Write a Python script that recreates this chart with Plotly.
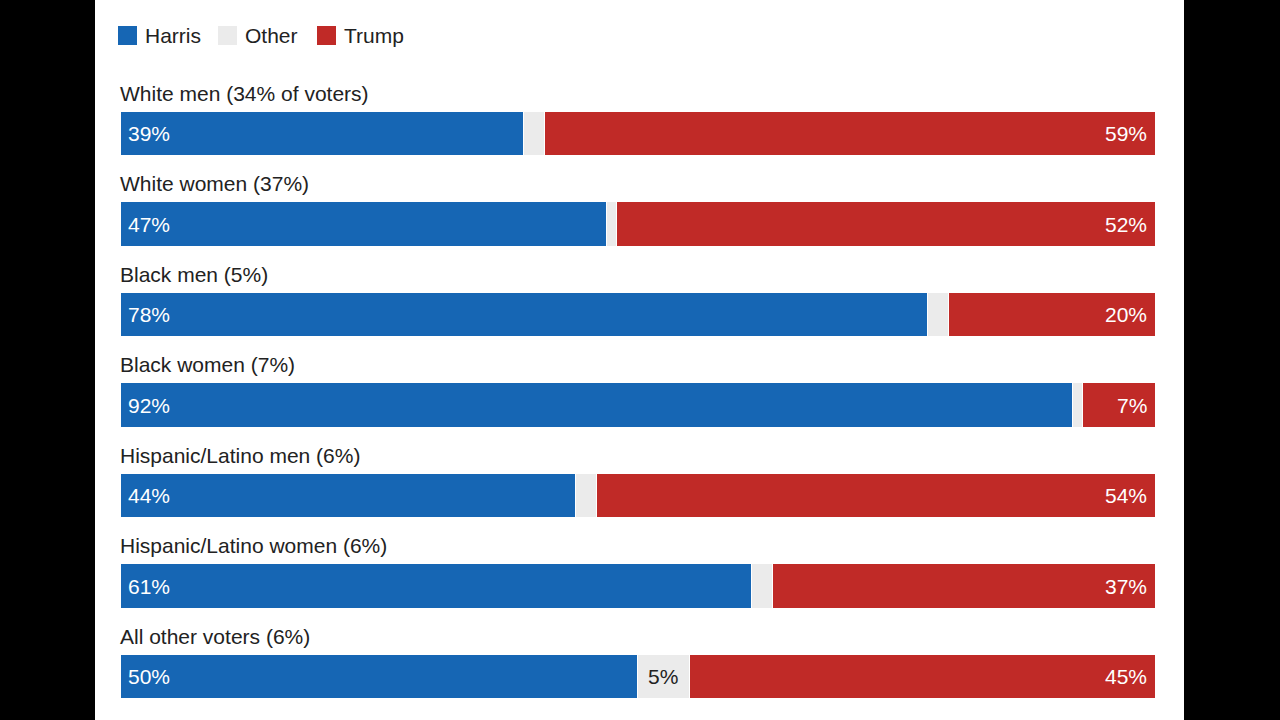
import plotly.graph_objects as go

# ---- data ----
groups = [
    "White men (34% of voters)",
    "White women (37%)",
    "Black men (5%)",
    "Black women (7%)",
    "Hispanic/Latino men (6%)",
    "Hispanic/Latino women (6%)",
    "All other voters (6%)",
]
harris = [39, 47, 78, 92, 44, 61, 50]
other = [2, 1, 2, 1, 2, 2, 5]
trump = [59, 52, 20, 7, 54, 37, 45]
series_names = ["Harris", "Other", "Trump"]

# ---- style ----
C_HARRIS = "#1666b4"
C_OTHER = "#ebebeb"
C_TRUMP = "#c02a27"
TXT = "#222222"
FONT = "Liberation Sans, Arial, sans-serif"
FS = 21

W, H = 1280, 720
ML, MR, MT, MB = 120, 125, 70, 0
PW, PH = W - ML - MR, H - MT - MB


def px_x(p):
    return (p - ML) / PW


def px_y(p):
    return (H - MB - p) / PH


rows = list(range(len(groups)))
colors = [C_HARRIS, C_OTHER, C_TRUMP]
values = [harris, other, trump]

fig = go.Figure()
for name, vals, col in zip(series_names, values, colors):
    fig.add_trace(go.Bar(
        x=vals, y=rows, orientation="h", name=name,
        marker=dict(color=col, line=dict(color="white", width=1)),
        width=0.49, showlegend=False, hoverinfo="skip",
    ))

annotations = []
for i, g in enumerate(groups):
    annotations.append(dict(
        x=0, xref="paper", y=i - 0.4475, yref="y", text=g, showarrow=False,
        xanchor="left", yanchor="middle", xshift=-2,
        font=dict(family=FONT, size=FS, color=TXT),
    ))
    annotations.append(dict(
        x=0, xref="x", y=i, yref="y", text=f"{harris[i]}%", showarrow=False,
        xanchor="left", yanchor="middle", xshift=6,
        font=dict(family=FONT, size=FS, color="white"),
    ))
    annotations.append(dict(
        x=100, xref="x", y=i, yref="y", text=f"{trump[i]}%", showarrow=False,
        xanchor="right", yanchor="middle", xshift=-6,
        font=dict(family=FONT, size=FS, color="white"),
    ))
    if other[i] >= 4:
        annotations.append(dict(
            x=harris[i] + other[i] / 2, xref="x", y=i, yref="y", text=f"{other[i]}%",
            showarrow=False, xanchor="center", yanchor="middle",
            font=dict(family=FONT, size=FS, color=TXT),
        ))

shapes = [dict(
    type="rect", xref="paper", yref="paper",
    x0=px_x(95), x1=px_x(1184), y0=px_y(720), y1=px_y(0),
    fillcolor="white", line=dict(width=0), layer="below",
)]

# custom legend
leg_x = [118, 218, 317]
for name, col, lx in zip(series_names, colors, leg_x):
    shapes.append(dict(
        type="rect", xref="paper", yref="paper",
        x0=px_x(lx), x1=px_x(lx + 19), y0=px_y(45), y1=px_y(26),
        fillcolor=col, line=dict(width=0),
    ))
    annotations.append(dict(
        x=px_x(lx + 25), xref="paper", y=px_y(36), yref="paper", text=name,
        showarrow=False, xanchor="left", yanchor="middle",
        font=dict(family=FONT, size=FS, color=TXT),
    ))

v_top = -(133.5 - MT) / 90.5
v_bot = v_top + PH / 90.5

fig.update_layout(
    width=W, height=H,
    margin=dict(l=ML, r=MR, t=MT, b=MB, pad=0),
    paper_bgcolor="black",
    plot_bgcolor="rgba(0,0,0,0)",
    barmode="stack",
    xaxis=dict(range=[0, 100], visible=False, fixedrange=True),
    yaxis=dict(range=[v_bot, v_top], visible=False, fixedrange=True),
    annotations=annotations,
    shapes=shapes,
    showlegend=False,
)

fig.write_html("out.html", config={"displayModeBar": False})
